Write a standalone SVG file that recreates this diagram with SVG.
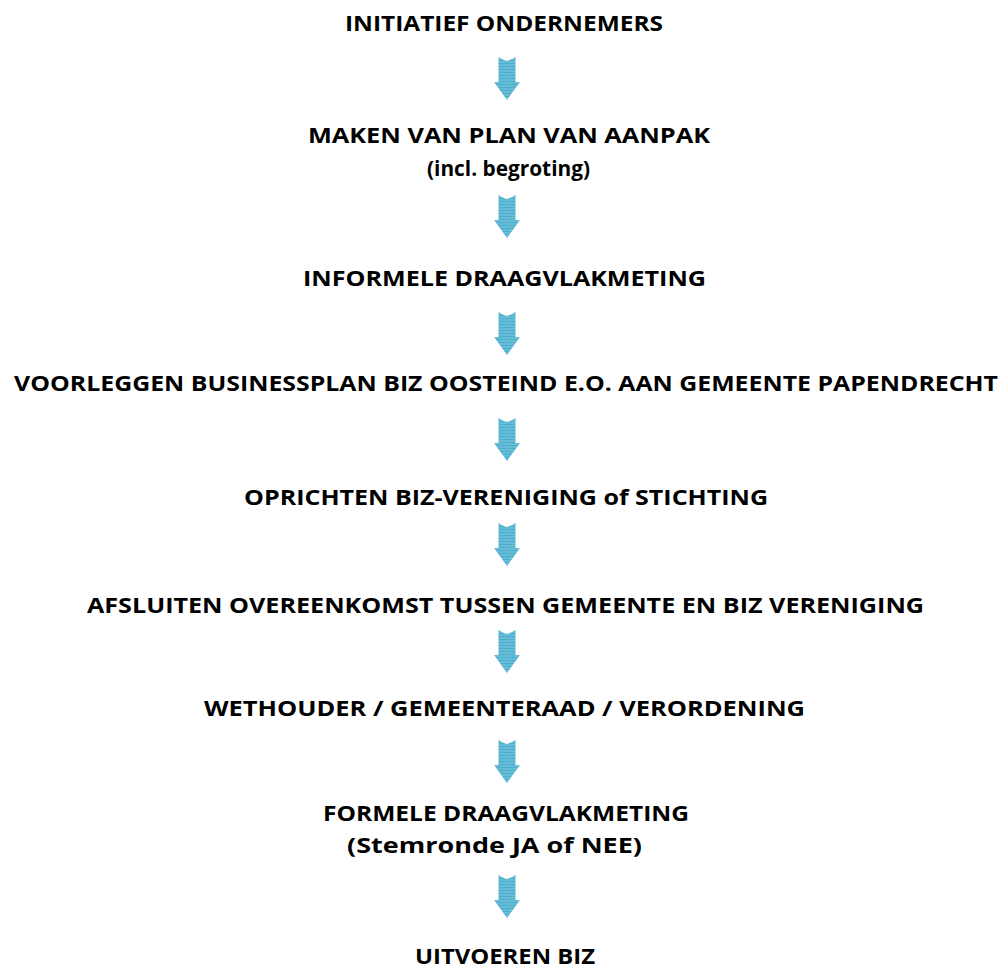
<svg xmlns="http://www.w3.org/2000/svg" xmlns:xlink="http://www.w3.org/1999/xlink" width="1003" height="969" viewBox="0 0 1003 969">
<style>
text{font-family:"Open Sans","Liberation Sans",Arial,sans-serif;font-weight:bold;font-size:22px;fill:#000;}
.arr{fill:url(#stripes);}
</style>
<defs>
<pattern id="stripes" width="4" height="3" patternUnits="userSpaceOnUse">
<rect width="4" height="3" fill="#66bcd6"/>
<rect width="4" height="1" fill="#4eafcc"/>
</pattern>
<path id="arrow" d="M-8.5,0 Q-4,3 0,4 Q4,3 8.5,0 L8.5,25 L13,25 L0,43 L-13,25 L-8.5,25 Z"/>
</defs>
<rect width="1003" height="969" fill="#fff"/>
<g id="connectors">
<use href="#arrow" class="arr" x="507" y="57"/>
<use href="#arrow" class="arr" x="507" y="195"/>
<use href="#arrow" class="arr" x="507" y="312"/>
<use href="#arrow" class="arr" x="507" y="418"/>
<use href="#arrow" class="arr" x="507" y="523"/>
<use href="#arrow" class="arr" x="507" y="630"/>
<use href="#arrow" class="arr" x="507" y="740"/>
<use href="#arrow" class="arr" x="507" y="875"/>
</g>
<g id="n1"><text x="345" y="31" textLength="318" lengthAdjust="spacingAndGlyphs">INITIATIEF ONDERNEMERS</text></g>
<g id="n2"><text x="308" y="143" textLength="402" lengthAdjust="spacingAndGlyphs">MAKEN VAN PLAN VAN AANPAK</text>
<text x="427" y="176" textLength="163" lengthAdjust="spacingAndGlyphs">(incl. begroting)</text></g>
<g id="n3"><text x="303" y="286" textLength="403" lengthAdjust="spacingAndGlyphs">INFORMELE DRAAGVLAKMETING</text></g>
<g id="n4"><text x="14" y="391" textLength="984" lengthAdjust="spacingAndGlyphs">VOORLEGGEN BUSINESSPLAN BIZ OOSTEIND E.O. AAN GEMEENTE PAPENDRECHT</text></g>
<g id="n5"><text x="244" y="505" textLength="524" lengthAdjust="spacingAndGlyphs">OPRICHTEN BIZ-VERENIGING of STICHTING</text></g>
<g id="n6"><text x="87" y="613" textLength="837" lengthAdjust="spacingAndGlyphs">AFSLUITEN OVEREENKOMST TUSSEN GEMEENTE EN BIZ VERENIGING</text></g>
<g id="n7"><text x="204" y="716" textLength="601" lengthAdjust="spacingAndGlyphs">WETHOUDER / GEMEENTERAAD / VERORDENING</text></g>
<g id="n8"><text x="323" y="821" textLength="366" lengthAdjust="spacingAndGlyphs">FORMELE DRAAGVLAKMETING</text>
<text x="347" y="853" textLength="295" lengthAdjust="spacingAndGlyphs">(Stemronde JA of NEE)</text></g>
<g id="n9"><text x="415" y="964" textLength="180" lengthAdjust="spacingAndGlyphs">UITVOEREN BIZ</text></g>
</svg>
